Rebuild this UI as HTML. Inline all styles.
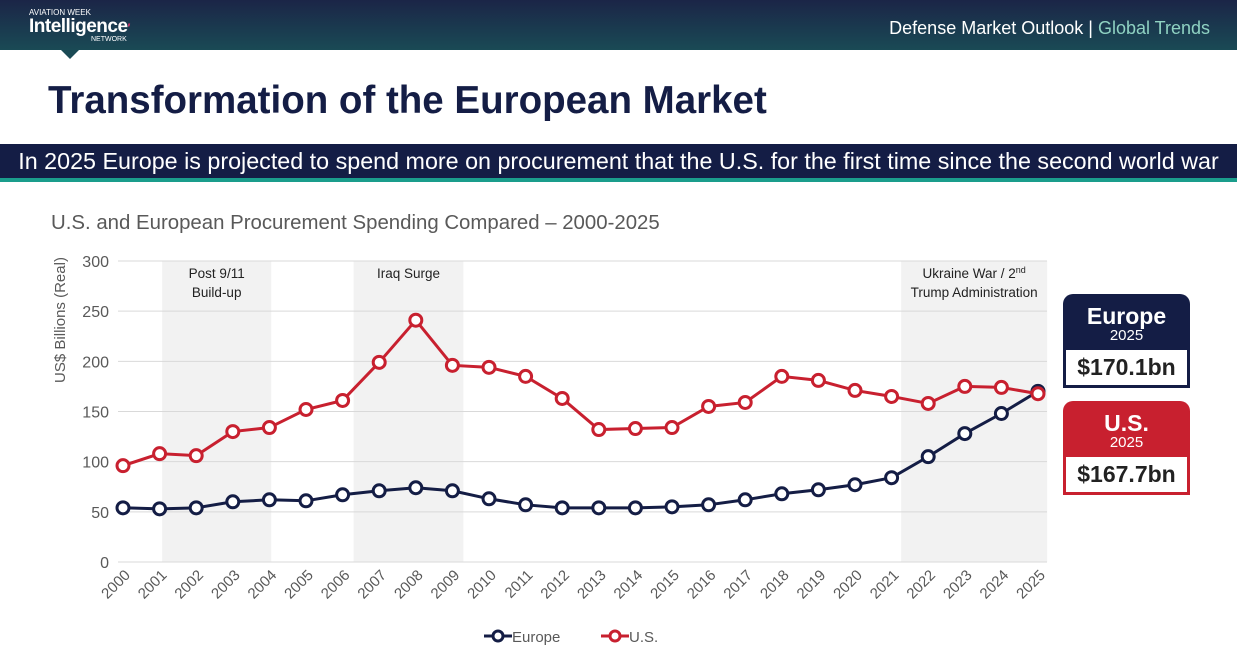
<!DOCTYPE html>
<html><head><meta charset="utf-8"><style>
body{margin:0;width:1237px;height:651px;overflow:hidden;background:#fff;font-family:"Liberation Sans",sans-serif;position:relative}
.abs{position:absolute}
</style></head><body>
<div class="abs" style="left:0;top:0;width:1237px;height:50px;background:linear-gradient(180deg,#1b2547 0%,#1a4a55 100%)"></div>
<div class="abs" style="left:61px;top:50px;width:0;height:0;border-left:9px solid transparent;border-right:9px solid transparent;border-top:9px solid #1a4a55"></div>
<div class="abs" style="left:29px;top:9px;color:#fff;line-height:1">
 <div style="font-size:8px">AVIATION WEEK</div>
 <div style="font-size:19px;font-weight:bold;letter-spacing:-0.5px">Intelligence<span style="color:#d8336e;font-size:12px">′</span></div>
 <div style="font-size:7px;margin-left:62px">NETWORK</div>
</div>
<div class="abs" style="right:27px;top:18px;font-size:18px;color:#fff">Defense Market Outlook | <span style="color:#8fd2c2">Global Trends</span></div>
<div class="abs" style="left:48px;top:79px;font-size:38.5px;font-weight:bold;color:#141d45">Transformation of the European Market</div>
<div class="abs" style="left:0;top:144px;width:1237px;height:34px;background:#141d45;color:#fff;font-size:23.3px;text-align:center;line-height:34px">In 2025 Europe is projected to spend more on procurement that the U.S. for the first time since the second world war</div>
<div class="abs" style="left:0;top:178px;width:1237px;height:4px;background:#1a9d8c"></div>
<div class="abs" style="left:51px;top:212px;font-size:20.4px;color:#595959">U.S. and European Procurement Spending Compared – 2000-2025</div>

<svg class="abs" style="left:0;top:0" width="1237" height="651" id="chart"></svg>

<div class="abs" style="left:1063px;top:294px;width:127px;height:94px;background:#141d45;border-radius:10px 10px 0 0;color:#fff;text-align:center">
 <div style="font-size:23px;font-weight:bold;margin-top:10px;line-height:24px">Europe</div>
 <div style="font-size:15px;line-height:16px">2025</div>
 <div style="position:absolute;left:3px;top:56px;width:121px;height:35px;background:#fff;color:#222;font-size:23px;font-weight:bold;line-height:35px">$170.1bn</div>
</div>
<div class="abs" style="left:1063px;top:401px;width:127px;height:94px;background:#c8202f;border-radius:10px 10px 0 0;color:#fff;text-align:center">
 <div style="font-size:23px;font-weight:bold;margin-top:10px;line-height:24px">U.S.</div>
 <div style="font-size:15px;line-height:16px">2025</div>
 <div style="position:absolute;left:3px;top:56px;width:121px;height:35px;background:#fff;color:#222;font-size:23px;font-weight:bold;line-height:35px">$167.7bn</div>
</div>

<script>
const years=[2000,2001,2002,2003,2004,2005,2006,2007,2008,2009,2010,2011,2012,2013,2014,2015,2016,2017,2018,2019,2020,2021,2022,2023,2024,2025];
const usValues=[96,108,106,130,134,152,161,199,241,196,194,185,163,132,133,134,155,159,185,181,171,165,158,175,174,167.7];
const europeValues=[54,53,54,60,62,61,67,71,74,71,63,57,54,54,54,55,57,62,68,72,77,84,105,128,148,170.1];
const yTicks=[0,50,100,150,200,250,300];
const bandStarts=[2001.07,2006.3,2021.26];
const bandEnds=[2004.05,2009.3,2025.25];
const bandLabels=[["Post 9/11","Build-up"],["Iraq Surge"],["Ukraine War / 2nd","Trump Administration"]];
const NS="http://www.w3.org/2000/svg";
const svg=document.getElementById('chart');
const X=y=>123+(y-2000)*(1038-123)/25;
const Y=v=>562-v*(301/300);
function mk(t,a,p){const e=document.createElementNS(NS,t);for(const k in a)e.setAttribute(k,a[k]);(p||svg).appendChild(e);return e;}
bandStarts.forEach((s,i)=>{
 const r=mk('rect',{x:X(s),y:261,width:X(bandEnds[i])-X(s),height:301,fill:'#f2f2f2'});
 
 
 const cx=(X(s)+X(bandEnds[i]))/2;
 bandLabels[i].forEach((l,j)=>{
  const t=mk('text',{x:cx,y:278+j*19,'font-size':13.5,fill:'#222','text-anchor':'middle','font-family':'Liberation Sans'});
  
  
  if(l.indexOf('2nd')>=0){t.textContent=l.replace('2nd','2');const ts=mk('tspan',{'font-size':9,dy:-5},t);ts.textContent='nd';}
  else t.textContent=l;
 });
});
yTicks.forEach(v=>{
 const g=mk('line',{x1:118,x2:1047,y1:Y(v),y2:Y(v),stroke:'#d9d9d9','stroke-width':1});
 
 
 const t=mk('text',{x:109,y:Y(v)+6,'font-size':16,fill:'#595959','text-anchor':'end','font-family':'Liberation Sans'});
 
 
 t.textContent=v;
});
const yt=mk('text',{x:0,y:0,'font-size':15,fill:'#595959','text-anchor':'middle','font-family':'Liberation Sans',transform:'translate(65,320) rotate(-90)'});


yt.textContent='US$ Billions (Real)';
years.forEach(y=>{
 const t=mk('text',{x:0,y:0,'font-size':15,fill:'#595959','text-anchor':'end','font-family':'Liberation Sans',transform:`translate(${X(y)+8},576) rotate(-45)`});
 
 
 t.textContent=y;
});
function series(vals,col,name){
 const p=mk('polyline',{points:vals.map((v,i)=>X(years[i])+','+Y(v)).join(' '),fill:'none',stroke:col,'stroke-width':3});
 
 
 vals.forEach((v,i)=>{
  const c=mk('circle',{cx:X(years[i]),cy:Y(v),r:6,fill:'#fff',stroke:col,'stroke-width':3});
  
  
 });
}
series(europeValues,'#141d45','europe');
series(usValues,'#c8202f','us');
[[484,'#141d45','Europe'],[601,'#c8202f','U.S.']].forEach(([x,c,l])=>{
 const g=mk('g',{});
 
 
 mk('line',{x1:x,x2:x+28,y1:636,y2:636,stroke:c,'stroke-width':3},g);
 mk('circle',{cx:x+14,cy:636,r:5,fill:'#fff',stroke:c,'stroke-width':3},g);
 const t=mk('text',{x:x+28,y:642,'font-size':15,fill:'#595959','font-family':'Liberation Sans'},g);
 t.textContent=l;
});
</script>
</body></html>
